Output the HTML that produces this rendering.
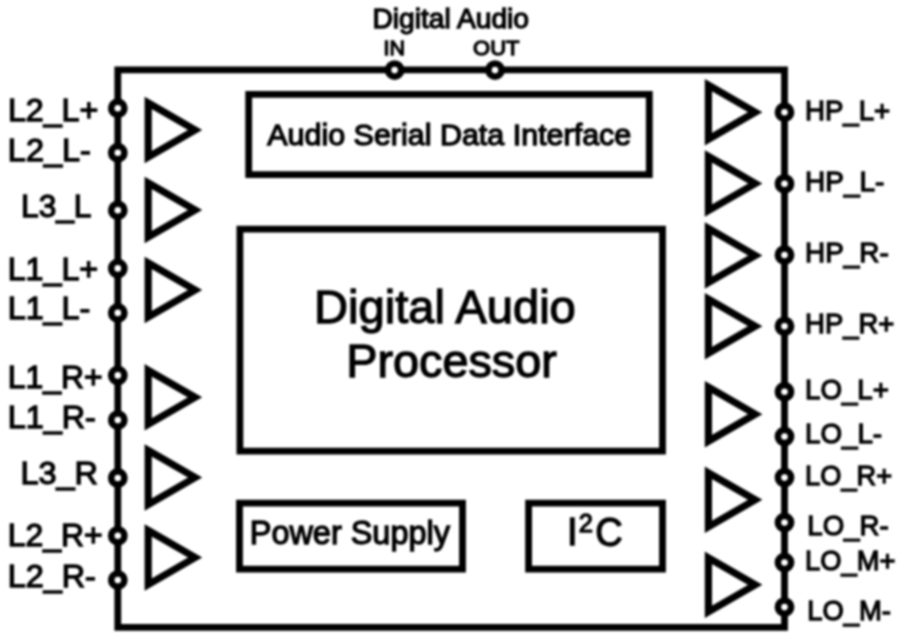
<!DOCTYPE html>
<html><head><meta charset="utf-8"><style>
html,body{margin:0;padding:0;background:#fff;width:900px;height:637px;overflow:hidden}
svg{display:block}
#w{filter:blur(0.8px);width:900px;height:637px}
text{font-family:"Liberation Sans",sans-serif;fill:#000;stroke:#000;stroke-width:1.3}
.s{fill:none;stroke:#000;stroke-width:6.5}
.t{fill:none;stroke:#000;stroke-width:7.2;stroke-linejoin:miter;stroke-miterlimit:10}
.f{fill:#000;fill-rule:evenodd}
.c{fill:#fff;stroke:#000;stroke-width:6.6}
</style></head><body>
<div id="w"><svg width="900" height="637" viewBox="0 0 900 637">
<path d="M114.40 66.45H787.90V630.65H114.40Z M121.20 73.15H781.10V623.95H121.20Z" class="f"/>
<path d="M245.30 90.95H652.70V178.05H245.30Z M252.10 97.65H645.90V171.35H252.10Z" class="f"/>
<path d="M236.50 225.85H665.90V454.55H236.50Z M243.30 232.55H659.10V447.85H243.30Z" class="f"/>
<path d="M236.10 499.75H465.90V572.55H236.10Z M242.90 506.45H459.10V565.85H242.90Z" class="f"/>
<path d="M525.20 499.85H665.90V572.55H525.20Z M532.00 506.55H659.10V565.85H532.00Z" class="f"/>
<path d="M148.20 102.98L195.00 130.00L148.20 157.02Z" class="t"/>
<path d="M148.20 182.98L195.00 210.00L148.20 237.02Z" class="t"/>
<path d="M148.20 262.98L195.00 290.00L148.20 317.02Z" class="t"/>
<path d="M148.20 370.28L195.00 397.30L148.20 424.32Z" class="t"/>
<path d="M148.20 450.48L195.00 477.50L148.20 504.52Z" class="t"/>
<path d="M148.20 530.48L195.00 557.50L148.20 584.52Z" class="t"/>
<path d="M708.40 85.18L755.20 112.20L708.40 139.22Z" class="t"/>
<path d="M708.40 156.48L755.20 183.50L708.40 210.52Z" class="t"/>
<path d="M708.40 228.48L755.20 255.50L708.40 282.52Z" class="t"/>
<path d="M708.40 299.18L755.20 326.20L708.40 353.22Z" class="t"/>
<path d="M708.40 387.18L755.20 414.20L708.40 441.22Z" class="t"/>
<path d="M708.40 472.78L755.20 499.80L708.40 526.82Z" class="t"/>
<path d="M708.40 557.78L755.20 584.80L708.40 611.82Z" class="t"/>
<circle cx="117.8" cy="108.2" r="6.6" class="c"/>
<circle cx="117.8" cy="152.7" r="6.6" class="c"/>
<circle cx="117.8" cy="210.3" r="6.6" class="c"/>
<circle cx="117.8" cy="268.4" r="6.6" class="c"/>
<circle cx="117.8" cy="312.9" r="6.6" class="c"/>
<circle cx="117.8" cy="375.4" r="6.6" class="c"/>
<circle cx="117.8" cy="420.1" r="6.6" class="c"/>
<circle cx="117.8" cy="478" r="6.6" class="c"/>
<circle cx="117.8" cy="535.8" r="6.6" class="c"/>
<circle cx="117.8" cy="580.1" r="6.6" class="c"/>
<circle cx="784.5" cy="112.2" r="6.6" class="c"/>
<circle cx="784.5" cy="183.8" r="6.6" class="c"/>
<circle cx="784.5" cy="255" r="6.6" class="c"/>
<circle cx="784.5" cy="326.3" r="6.6" class="c"/>
<circle cx="784.5" cy="391.7" r="6.6" class="c"/>
<circle cx="784.5" cy="436.5" r="6.6" class="c"/>
<circle cx="784.5" cy="477.6" r="6.6" class="c"/>
<circle cx="784.5" cy="522.5" r="6.6" class="c"/>
<circle cx="784.5" cy="562.5" r="6.6" class="c"/>
<circle cx="784.5" cy="607.1" r="6.6" class="c"/>
<circle cx="394.6" cy="70.1" r="6.6" class="c"/>
<circle cx="495" cy="70.1" r="6.6" class="c"/>
<text x="7.91" y="120.50" font-size="31.80" textLength="90.32" lengthAdjust="spacingAndGlyphs">L2_L+</text>
<text x="7.89" y="161.00" font-size="31.80" textLength="82.90" lengthAdjust="spacingAndGlyphs">L2_L-</text>
<text x="21.05" y="216.70" font-size="31.80" textLength="70.45" lengthAdjust="spacingAndGlyphs">L3_L</text>
<text x="7.71" y="279.70" font-size="31.80" textLength="90.43" lengthAdjust="spacingAndGlyphs">L1_L+</text>
<text x="7.70" y="319.30" font-size="31.80" textLength="82.58" lengthAdjust="spacingAndGlyphs">L1_L-</text>
<text x="7.74" y="387.90" font-size="31.80" textLength="94.79" lengthAdjust="spacingAndGlyphs">L1_R+</text>
<text x="7.70" y="427.50" font-size="31.80" textLength="88.09" lengthAdjust="spacingAndGlyphs">L1_R-</text>
<text x="20.49" y="484.00" font-size="31.80" textLength="77.57" lengthAdjust="spacingAndGlyphs">L3_R</text>
<text x="7.74" y="545.90" font-size="31.80" textLength="94.79" lengthAdjust="spacingAndGlyphs">L2_R+</text>
<text x="7.70" y="586.50" font-size="31.80" textLength="88.09" lengthAdjust="spacingAndGlyphs">L2_R-</text>
<text x="804.98" y="119.50" font-size="28.50" textLength="85.23" lengthAdjust="spacingAndGlyphs">HP_L+</text>
<text x="805.06" y="191.00" font-size="28.50" textLength="79.24" lengthAdjust="spacingAndGlyphs">HP_L-</text>
<text x="805.06" y="261.80" font-size="28.50" textLength="83.62" lengthAdjust="spacingAndGlyphs">HP_R-</text>
<text x="805.10" y="332.50" font-size="28.50" textLength="89.10" lengthAdjust="spacingAndGlyphs">HP_R+</text>
<text x="805.08" y="399.00" font-size="28.50" textLength="83.73" lengthAdjust="spacingAndGlyphs">LO_L+</text>
<text x="805.08" y="442.90" font-size="28.50" textLength="77.00" lengthAdjust="spacingAndGlyphs">LO_L-</text>
<text x="805.12" y="485.20" font-size="28.50" textLength="86.97" lengthAdjust="spacingAndGlyphs">LO_R+</text>
<text x="807.28" y="534.90" font-size="28.50" textLength="81.39" lengthAdjust="spacingAndGlyphs">LO_R-</text>
<text x="805.11" y="570.10" font-size="28.50" textLength="90.29" lengthAdjust="spacingAndGlyphs">LO_M+</text>
<text x="807.31" y="619.60" font-size="28.50" textLength="83.56" lengthAdjust="spacingAndGlyphs">LO_M-</text>
<text x="372.46" y="27.50" font-size="27.50" textLength="156.56" lengthAdjust="spacingAndGlyphs">Digital Audio</text>
<text x="383.57" y="54.50" font-size="21.00" textLength="21.42" lengthAdjust="spacingAndGlyphs">IN</text>
<text x="473.11" y="54.50" font-size="21.00" textLength="46.24" lengthAdjust="spacingAndGlyphs">OUT</text>
<text x="267.19" y="145.10" font-size="29.30" textLength="364.11" lengthAdjust="spacingAndGlyphs">Audio Serial Data Interface</text>
<text x="314.03" y="322.80" font-size="47.00" textLength="261.78" lengthAdjust="spacingAndGlyphs">Digital Audio</text>
<text x="346.21" y="376.70" font-size="47.00" textLength="210.61" lengthAdjust="spacingAndGlyphs">Processor</text>
<text x="249.79" y="543.60" font-size="32.50" textLength="200.12" lengthAdjust="spacingAndGlyphs">Power Supply</text>
<text x="566.9" y="545.1" font-size="38.4">I</text>
<text x="578.87" y="531.70" font-size="26.00" textLength="14.16" lengthAdjust="spacingAndGlyphs">2</text>
<text x="595.22" y="546.00" font-size="40.50" textLength="27.48" lengthAdjust="spacingAndGlyphs">C</text>
</svg></div>
</body></html>
